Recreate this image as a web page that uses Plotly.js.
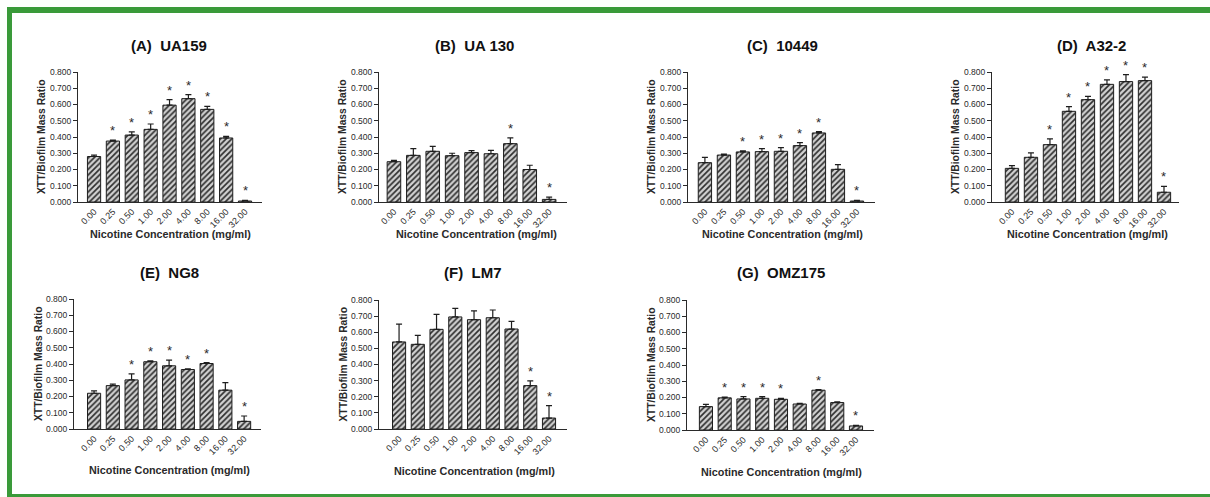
<!DOCTYPE html>
<html>
<head>
<meta charset="utf-8">
<script src="https://cdn.plot.ly/plotly-3.0.1.min.js"></script>
<style>
  html, body { margin: 0; padding: 0; background: #ffffff; }
  #chart { width: 1210px; height: 497px; }
</style>
</head>
<body>
<div id="chart"></div>
<script>
// Nicotine concentrations (mg/ml) on every x axis
const concentrations = ["0.00", "0.25", "0.50", "1.00", "2.00", "4.00", "8.00", "16.00", "32.00"];

// Mean XTT / biofilm mass ratio, error (upper bar) and significance flags per strain
const ua159Mean = [0.280, 0.375, 0.412, 0.447, 0.596, 0.636, 0.570, 0.394, 0.006];
const ua159Err  = [0.008, 0.006, 0.020, 0.033, 0.034, 0.025, 0.018, 0.010, 0.004];
const ua159Sig  = [0, 1, 1, 1, 1, 1, 1, 1, 1];

const ua130Mean = [0.248, 0.287, 0.312, 0.285, 0.304, 0.297, 0.359, 0.200, 0.016];
const ua130Err  = [0.008, 0.041, 0.030, 0.015, 0.012, 0.021, 0.035, 0.026, 0.014];
const ua130Sig  = [0, 0, 0, 0, 0, 0, 1, 0, 1];

const s10449Mean = [0.242, 0.289, 0.308, 0.310, 0.312, 0.347, 0.425, 0.201, 0.006];
const s10449Err  = [0.033, 0.006, 0.006, 0.018, 0.022, 0.018, 0.008, 0.029, 0.004];
const s10449Sig  = [0, 0, 1, 1, 1, 1, 1, 0, 1];

const a322Mean = [0.207, 0.275, 0.353, 0.558, 0.630, 0.724, 0.741, 0.747, 0.060];
const a322Err  = [0.017, 0.027, 0.035, 0.029, 0.020, 0.027, 0.043, 0.021, 0.036];
const a322Sig  = [0, 0, 1, 1, 1, 1, 1, 1, 1];

const ng8Mean = [0.220, 0.267, 0.302, 0.414, 0.389, 0.366, 0.403, 0.239, 0.047];
const ng8Err  = [0.015, 0.009, 0.037, 0.006, 0.035, 0.004, 0.005, 0.047, 0.033];
const ng8Sig  = [0, 0, 1, 1, 1, 1, 1, 0, 1];

const lm7Mean = [0.540, 0.525, 0.618, 0.695, 0.678, 0.690, 0.620, 0.269, 0.068];
const lm7Err  = [0.111, 0.056, 0.093, 0.053, 0.054, 0.048, 0.048, 0.029, 0.077];
const lm7Sig  = [0, 0, 0, 0, 0, 0, 0, 1, 1];

const omz175Mean = [0.144, 0.198, 0.191, 0.195, 0.189, 0.160, 0.245, 0.169, 0.025];
const omz175Err  = [0.014, 0.005, 0.015, 0.011, 0.006, 0.004, 0.004, 0.004, 0.004];
const omz175Sig  = [0, 1, 1, 1, 1, 0, 1, 0, 1];

const panelTitles = ["(A)  UA159", "(B)  UA 130", "(C)  10449", "(D)  A32-2", "(E)  NG8", "(F)  LM7", "(G)  OMZ175"];
const yAxisTitle = "XTT/Biofilm Mass Ratio";
const xAxisTitle = "Nicotine Concentration (mg/ml)";

const panelData = [
  [ua159Mean, ua159Err, ua159Sig],
  [ua130Mean, ua130Err, ua130Sig],
  [s10449Mean, s10449Err, s10449Sig],
  [a322Mean, a322Err, a322Sig],
  [ng8Mean, ng8Err, ng8Sig],
  [lm7Mean, lm7Err, lm7Sig],
  [omz175Mean, omz175Err, omz175Sig]
];

// Page geometry (pixels): plot box, category range, title centres
const W = 1210, H = 497;
const frames = [
  { x0: 78,  x1: 262,  y0: 72,  y1: 202, xr: [-0.85, 8.9],  title: [169, 45],  xt: [170, 234] },
  { x0: 379, x1: 567,  y0: 72,  y1: 202, xr: [-0.77, 8.92], title: [474, 45],  xt: [476, 234] },
  { x0: 688, x1: 875,  y0: 72,  y1: 202, xr: [-0.89, 8.95], title: [782, 45],  xt: [782, 234] },
  { x0: 992, x1: 1179, y0: 72,  y1: 202, xr: [-1.05, 8.79], title: [1091, 45], xt: [1087, 234] },
  { x0: 74,  x1: 261,  y0: 299, y1: 429, xr: [-1.07, 8.9],  title: [169, 272], xt: [169, 470] },
  { x0: 379, x1: 567,  y0: 300, y1: 429, xr: [-1.07, 8.96], title: [473, 272], xt: [474, 471] },
  { x0: 687, x1: 874,  y0: 300, y1: 430, xr: [-1.01, 8.96], title: [781, 272], xt: [781, 472] }
];

const px = x => x / W;
const py = y => 1 - y / H;

const FONT = "Liberation Sans, Arial, sans-serif";
const INK = "#2a2a2a";

const traces = [];
const annotations = [];
const layout = {
  width: W,
  height: H,
  margin: { l: 0, r: 0, t: 0, b: 0 },
  paper_bgcolor: "#ffffff",
  plot_bgcolor: "#ffffff",
  showlegend: false,
  font: { family: FONT, color: INK },
  shapes: [
    // green frame: top, left and bottom edges
    { type: "rect", xref: "paper", yref: "paper", x0: px(7), x1: px(1210), y0: py(13), y1: py(7), fillcolor: "#3a9a3a", line: { width: 0 } },
    { type: "rect", xref: "paper", yref: "paper", x0: px(7), x1: px(12), y0: py(497), y1: py(7), fillcolor: "#3a9a3a", line: { width: 0 } },
    { type: "rect", xref: "paper", yref: "paper", x0: px(7), x1: px(1210), y0: py(497), y1: py(494), fillcolor: "#3a9a3a", line: { width: 0 } }
  ],
  annotations: annotations
};

panelData.forEach((pd, i) => {
  const [mean, err, sig] = pd;
  const f = frames[i];
  const n = i === 0 ? "" : String(i + 1);
  const xa = "x" + n, ya = "y" + n;

  traces.push({
    type: "bar",
    x: concentrations,
    y: mean,
    xaxis: xa,
    yaxis: ya,
    width: 0.7,
    marker: {
      color: "#d2d2d2",
      line: { color: "#1e1e1e", width: 1 },
      pattern: { shape: "/", fgcolor: "#2e2e2e", bgcolor: "#d2d2d2", size: 4, solidity: 0.42 }
    },
    error_y: {
      type: "data",
      symmetric: false,
      array: err,
      arrayminus: mean.map(() => 0),
      color: "#1e1e1e",
      thickness: 1.2,
      width: 3
    },
    hoverinfo: "x+y"
  });

  layout["xaxis" + n] = {
    domain: [px(f.x0), px(f.x1)],
    anchor: ya,
    type: "category",
    range: f.xr,
    showline: true,
    linecolor: INK,
    linewidth: 1,
    ticks: "",
    tickangle: -45,
    tickfont: { family: FONT, size: 9, color: INK },
    showgrid: false,
    zeroline: false,
    fixedrange: true
  };
  layout["yaxis" + n] = {
    domain: [py(f.y1), py(f.y0)],
    anchor: xa,
    range: [0, 0.8],
    dtick: 0.1,
    tick0: 0,
    tickformat: ".3f",
    showline: true,
    linecolor: INK,
    linewidth: 1,
    ticks: "outside",
    ticklen: 4,
    tickcolor: INK,
    tickfont: { family: FONT, size: 8.5, color: INK },
    showgrid: false,
    zeroline: false,
    fixedrange: true
  };

  // significance stars above the error bars (x given as category index)
  sig.forEach((s, k) => {
    if (!s) return;
    annotations.push({
      xref: xa, yref: ya,
      x: k,
      y: mean[k] + err[k],
      text: "*",
      showarrow: false,
      xanchor: "center",
      yanchor: "bottom",
      yshift: 0,
      font: { family: FONT, size: 13, color: INK }
    });
  });

  // panel title
  annotations.push({
    xref: "paper", yref: "paper",
    x: px(f.title[0]), y: py(f.title[1]),
    xanchor: "center", yanchor: "middle",
    text: "<b>" + panelTitles[i] + "</b>",
    showarrow: false,
    font: { family: FONT, size: 15, color: "#111" }
  });
  // x axis title
  annotations.push({
    xref: "paper", yref: "paper",
    x: px(f.xt[0]), y: py(f.xt[1]),
    xanchor: "center", yanchor: "middle",
    text: "<b>" + xAxisTitle + "</b>",
    showarrow: false,
    font: { family: FONT, size: 10.8, color: INK }
  });
  // y axis title
  annotations.push({
    xref: "paper", yref: "paper",
    x: px(f.x0 - 36), y: py((f.y0 + f.y1) / 2),
    xanchor: "center", yanchor: "middle",
    textangle: -90,
    text: "<b>" + yAxisTitle + "</b>",
    showarrow: false,
    font: { family: FONT, size: 10.3, color: INK }
  });
});

Plotly.newPlot("chart", traces, layout, { displayModeBar: false, staticPlot: true });
</script>
</body>
</html>
